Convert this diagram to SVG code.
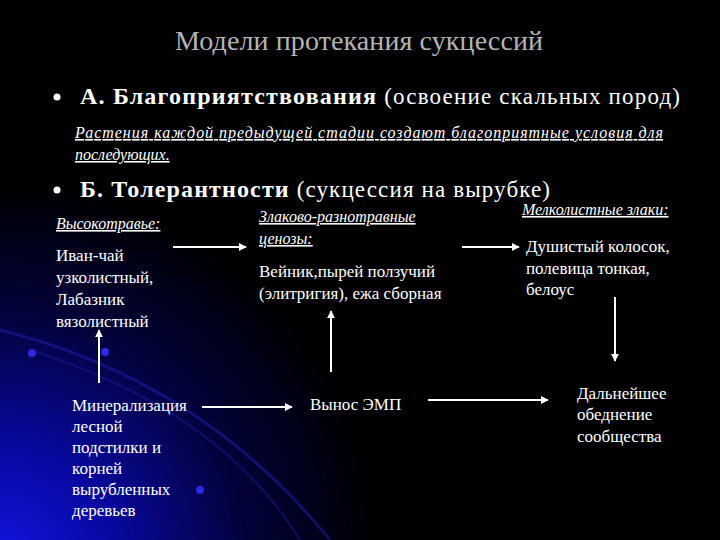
<svg xmlns="http://www.w3.org/2000/svg" width="720" height="540" viewBox="0 0 720 540" font-family="'Liberation Serif','Times New Roman','DejaVu Serif',serif">
<defs>
<radialGradient id="glow" cx="0" cy="560" r="380" gradientUnits="userSpaceOnUse">
<stop offset="0" stop-color="#1414e0"/><stop offset="0.3" stop-color="#0808a0"/><stop offset="0.65" stop-color="#02023a"/><stop offset="1" stop-color="#000"/>
</radialGradient>
<marker id="ah" viewBox="0 0 10 10" refX="9" refY="5" markerWidth="4" markerHeight="4" orient="auto"><path d="M0 0L10 5L0 10z" fill="#fff"/></marker>
<style>
text{fill:#fff}
.t{font-size:17px}
.h{font-size:16px;font-style:italic;text-decoration:underline}
.c line{stroke:#fff;stroke-width:2;marker-end:url(#ah)}
</style>
</defs>
<rect width="720" height="540" fill="#000"/>
<rect width="720" height="540" fill="url(#glow)"/>
<path d="M0 330 Q200 380 330 540" stroke="#2020b0" stroke-width="3" fill="none" opacity="0.5"/>
<path d="M30 350 Q220 410 300 540" stroke="#2020b0" stroke-width="2" fill="none" opacity="0.4"/>
<circle cx="32" cy="353" r="4" fill="#2a2ae0"/>
<circle cx="105" cy="352" r="4" fill="#2a2ae0"/>
<circle cx="200" cy="490" r="4" fill="#2a2ae0"/>
<text x="175" y="50" textLength="368" font-size="28" style="fill:#b4b4b4">Модели протекания сукцессий</text>
<circle cx="57" cy="97" r="3.5" fill="#fff"/>
<text x="80" y="104" font-size="24" textLength="600"><tspan font-weight="bold">А. Благоприятствования</tspan><tspan font-size="23"> (освоение скальных пород)</tspan></text>
<text class="h" x="75" y="138" textLength="588">Растения каждой предыдущей стадии создают благоприятные условия для</text>
<text class="h" x="75" y="160">последующих.</text>
<circle cx="57" cy="190" r="3.5" fill="#fff"/>
<text x="80" y="197" font-size="24" textLength="470"><tspan font-weight="bold">Б. Толерантности</tspan><tspan font-size="23"> (сукцессия на вырубке)</tspan></text>
<g id="n1"><text class="h" x="56" y="229">Высокотравье:</text>
<text class="t" x="56" y="261">Иван-чай</text><text class="t" x="56" y="283">узколистный,</text><text class="t" x="56" y="305">Лабазник</text><text class="t" x="56" y="327">вязолистный</text></g>
<g id="n2"><text class="h" x="259" y="222">Злаково-разнотравные</text><text class="h" x="259" y="244">ценозы:</text>
<text class="t" x="259" y="277">Вейник,пырей ползучий</text><text class="t" x="259" y="299">(элитригия),  ежа сборная</text></g>
<g id="n3"><text class="h" x="522" y="215">Мелколистные злаки:</text>
<text class="t" x="526" y="252">Душистый колосок,</text><text class="t" x="526" y="274">полевица тонкая,</text><text class="t" x="526" y="295">белоус</text></g>
<g id="n4"><text class="t" x="72" y="411">Минерализация</text><text class="t" x="72" y="432">лесной</text><text class="t" x="72" y="453">подстилки и</text><text class="t" x="72" y="474">корней</text><text class="t" x="72" y="495">вырубленных</text><text class="t" x="72" y="516">деревьев</text></g>
<g id="n5"><text class="t" x="310" y="410">Вынос ЭМП</text></g>
<g id="n6"><text class="t" x="577" y="399">Дальнейшее</text><text class="t" x="577" y="420">обеднение</text><text class="t" x="577" y="442">сообщества</text></g>
<g class="c" id="connectors">
<line x1="173" y1="247" x2="246" y2="247"/>
<line x1="99" y1="383" x2="99" y2="330"/>
<line x1="202" y1="407" x2="292" y2="407"/>
<line x1="331" y1="372" x2="331" y2="311"/>
<line x1="462" y1="247" x2="519" y2="247"/>
<line x1="615" y1="297" x2="615" y2="361"/>
<line x1="428" y1="400" x2="548" y2="400"/>
</g>
</svg>
